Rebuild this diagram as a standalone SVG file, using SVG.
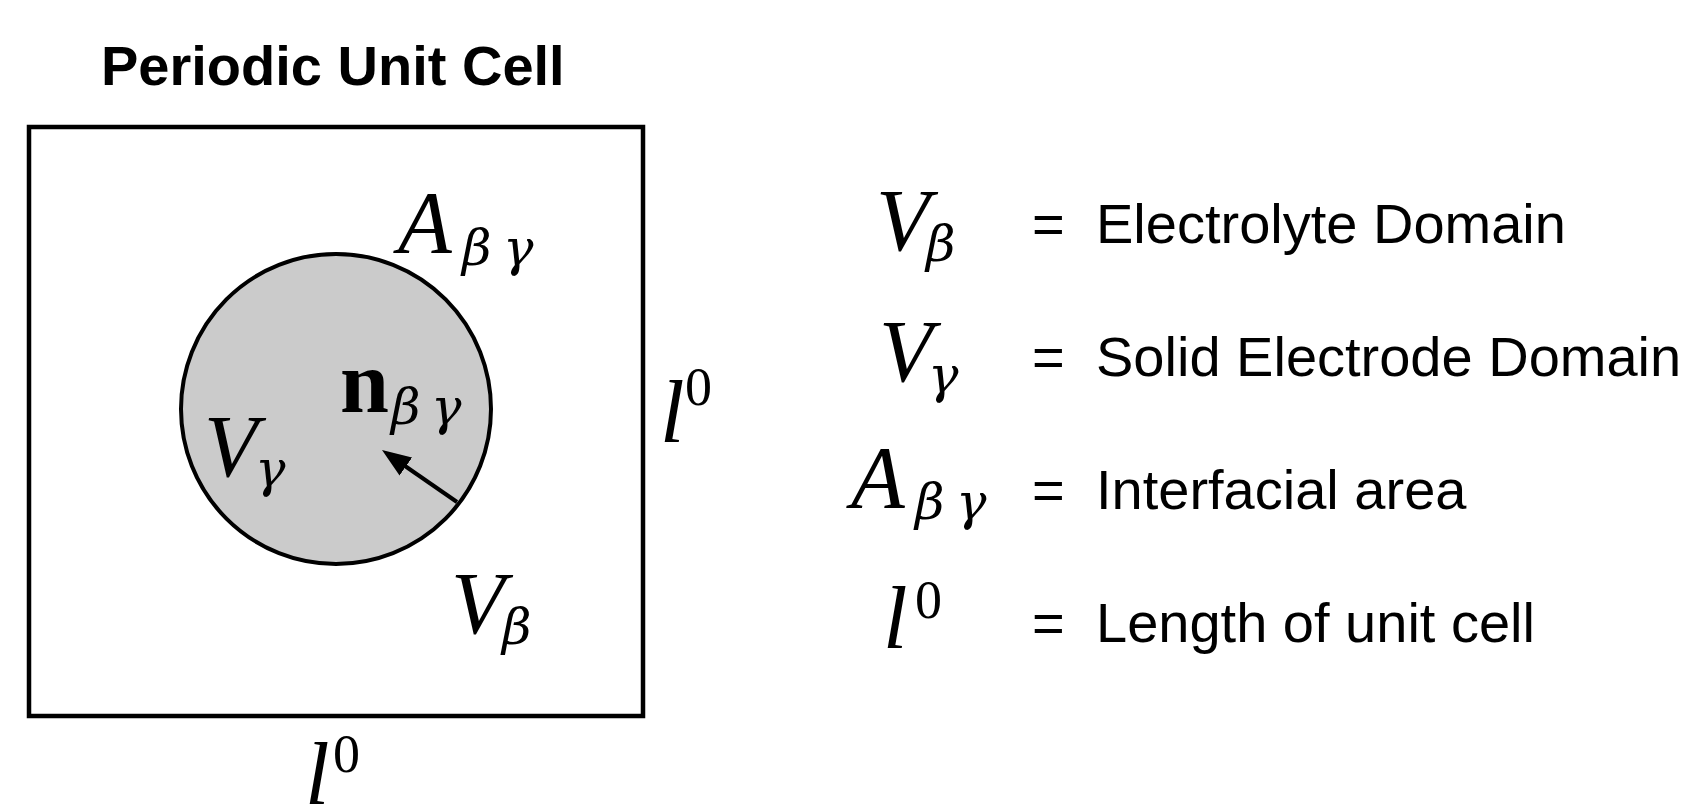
<svg xmlns="http://www.w3.org/2000/svg" width="1691" height="810" viewBox="0 0 1691 810">
<style>
.title{font-family:"Liberation Sans",Arial,sans-serif;font-weight:bold;font-size:56px;fill:#000}
.txt{font-family:"Liberation Sans",Arial,sans-serif;font-size:56px;fill:#000}
.m{font-family:"Liberation Serif","DejaVu Serif",serif;font-style:italic;font-size:88px;fill:#000}
.s{font-family:"DejaVu Serif","Liberation Serif",serif;font-size:51px}
.sup{font-style:normal;font-size:54px}
.bold{font-style:normal;font-weight:bold}
</style>
<defs>
<marker id="arr" markerUnits="userSpaceOnUse" markerWidth="30" markerHeight="24" viewBox="0 0 30 24" refX="1" refY="12" orient="auto">
<path d="M0,1 L29,12 L0,23 z" fill="#000"/>
</marker>
</defs>
<rect width="1691" height="810" fill="#fff"/>
<g id="title"><text class="title" x="101" y="85">Periodic Unit Cell</text></g>
<g id="unit-cell"><rect x="29" y="127" width="614" height="589" fill="none" stroke="#000" stroke-width="4.5"/></g>
<g id="solid-particle"><circle cx="336" cy="409" r="155" fill="#cbcbcb" stroke="#000" stroke-width="4"/></g>
<g id="connectors"><line x1="457" y1="502" x2="405" y2="466" stroke="#000" stroke-width="4" marker-end="url(#arr)"/></g>
<g id="label-A"><text class="m"><tspan x="398" y="252">A</tspan><tspan class="s" x="462" y="265">β</tspan><tspan class="s" x="503" y="265">γ</tspan></text></g>
<g id="label-n"><text class="m"><tspan class="bold" x="340" y="412">n</tspan><tspan class="s" x="391" y="424">β</tspan><tspan class="s" x="431" y="424">γ</tspan></text></g>
<g id="label-Vgamma"><text class="m"><tspan x="204" y="476">V</tspan><tspan class="s" x="255" y="486">γ</tspan></text></g>
<g id="label-Vbeta"><text class="m"><tspan x="451" y="633">V</tspan><tspan class="s" x="502" y="644">β</tspan></text></g>
<g id="label-l-right"><text class="m"><tspan x="660" y="442">l</tspan><tspan class="sup" x="685" y="405">0</tspan></text></g>
<g id="label-l-bottom"><text class="m"><tspan x="305" y="804">l</tspan><tspan class="sup" x="333" y="772">0</tspan></text></g>
<g id="legend">
<g id="legend-Vbeta"><text class="m"><tspan x="876" y="250">V</tspan><tspan class="s" x="926" y="261">β</tspan></text><text class="txt" x="1032" y="243">=</text><text class="txt" x="1096" y="243">Electrolyte Domain</text></g>
<g id="legend-Vgamma"><text class="m"><tspan x="879" y="381">V</tspan><tspan class="s" x="928" y="392">γ</tspan></text><text class="txt" x="1032" y="376">=</text><text class="txt" x="1096" y="376">Solid Electrode Domain</text></g>
<g id="legend-A"><text class="m"><tspan x="851" y="507">A</tspan><tspan class="s" x="915" y="519">β</tspan><tspan class="s" x="956" y="519">γ</tspan></text><text class="txt" x="1032" y="509">=</text><text class="txt" x="1096" y="509">Interfacial area</text></g>
<g id="legend-l"><text class="m"><tspan x="883" y="648">l</tspan><tspan class="sup" x="915" y="618">0</tspan></text><text class="txt" x="1032" y="642">=</text><text class="txt" x="1096" y="642">Length of unit cell</text></g>
</g>
</svg>
